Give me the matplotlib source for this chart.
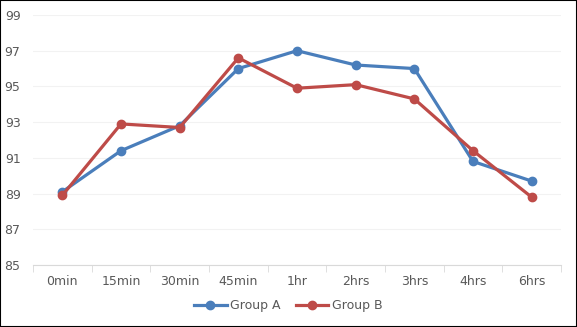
import matplotlib.pyplot as plt
import numpy as np
from matplotlib.patches import Rectangle

labels = ["0min", "15min", "30min", "45min", "1hr", "2hrs", "3hrs", "4hrs", "6hrs"]
group_a = [89.1, 91.4, 92.8, 96.0, 97.0, 96.2, 96.0, 90.8, 89.7]
group_b = [88.9, 92.9, 92.7, 96.6, 94.9, 95.1, 94.3, 91.4, 88.8]

blue = "#4A7EBB"
red = "#BE4B48"
text_col = "#595959"

fig = plt.figure(figsize=(5.77, 3.27), dpi=100)
ax = fig.add_axes([33 / 577, 62 / 327, 528 / 577, 250 / 327])

x = np.arange(len(labels))
ax.plot(x, group_a, color=blue, lw=2.3, marker="o", ms=6, label="Group A", zorder=3)
ax.plot(x, group_b, color=red, lw=2.3, marker="o", ms=6, label="Group B", zorder=3)

ax.set_xlim(-0.5, len(labels) - 0.5)
ax.set_ylim(85, 99)
ax.set_yticks(np.arange(85, 100, 2))
ax.set_xticks(x)
ax.set_xticklabels(labels)
ax.set_xticks(np.arange(-0.5, len(labels), 1), minor=True)

ax.grid(axis="y", color="#F2F2F2", lw=0.8)
ax.set_axisbelow(True)
for side in ["top", "right", "left"]:
    ax.spines[side].set_visible(False)
ax.spines["bottom"].set_color("#D9D9D9")

ax.tick_params(axis="x", which="major", length=0, pad=7, labelsize=9, colors=text_col)
ax.tick_params(axis="x", which="minor", length=5, color="#D9D9D9")
ax.tick_params(axis="y", length=0, pad=9, labelsize=9, colors=text_col)

fig.legend(loc="lower center", bbox_to_anchor=(0.5, 0.01), ncol=2, frameon=False,
           fontsize=9, labelcolor=text_col, handlelength=2.6, columnspacing=1.2,
           handletextpad=0.3)

fig.patches.append(Rectangle((0, 0), 1, 1, transform=fig.transFigure, fill=False,
                             edgecolor="black", lw=1.5))

fig.savefig("out.png", dpi=100)
